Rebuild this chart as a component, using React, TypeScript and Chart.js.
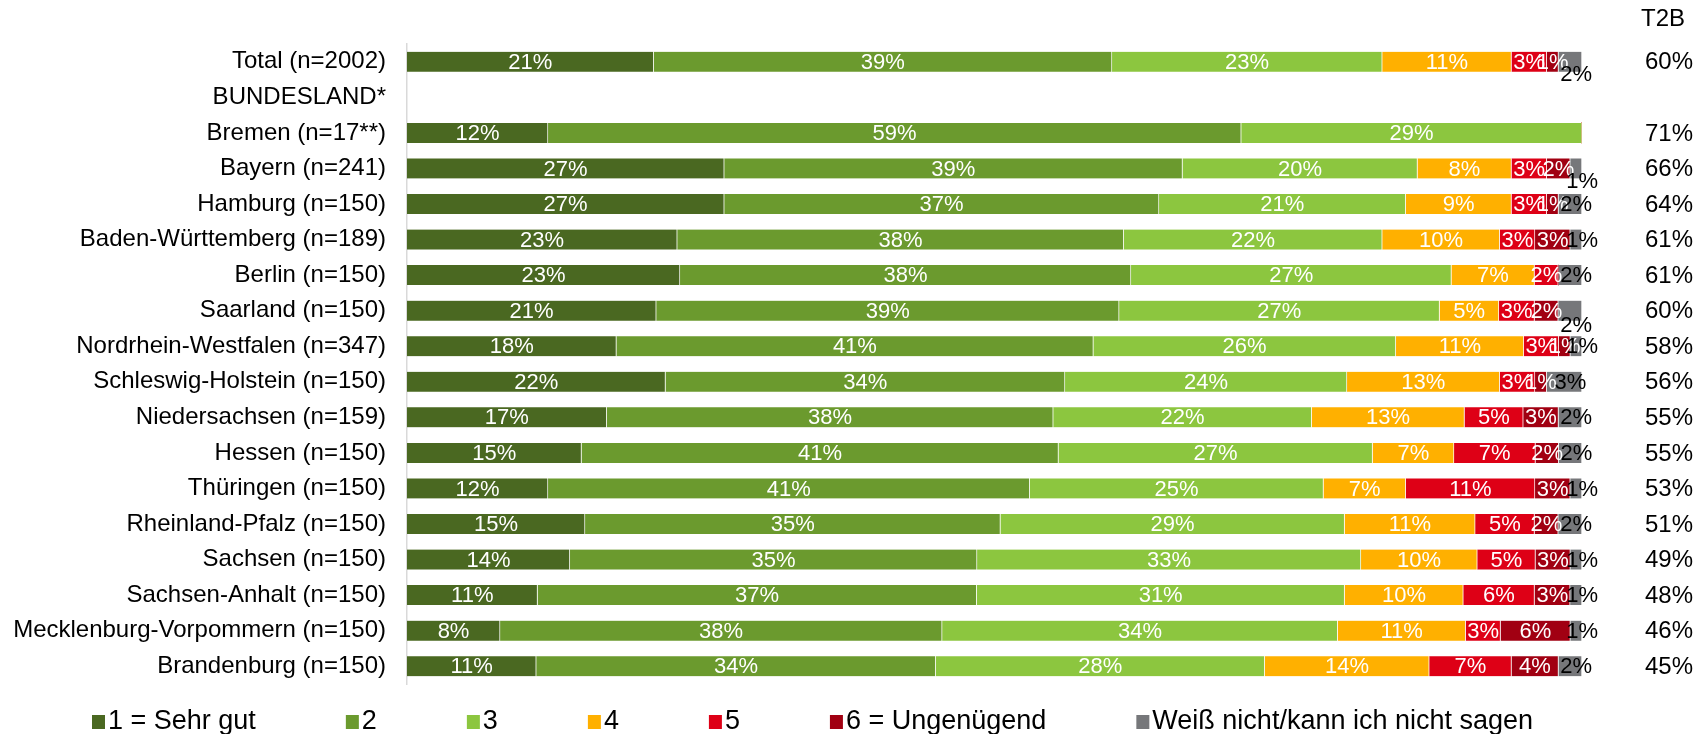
import React, { useEffect, useRef } from "react";
import { Chart, registerables } from "chart.js";

Chart.register(...registerables);

const FONT = "'Liberation Sans', Arial, Helvetica, sans-serif";

const categories = [
  "Total (n=2002)",
  "BUNDESLAND*",
  "Bremen (n=17**)",
  "Bayern (n=241)",
  "Hamburg (n=150)",
  "Baden-Württemberg (n=189)",
  "Berlin (n=150)",
  "Saarland (n=150)",
  "Nordrhein-Westfalen (n=347)",
  "Schleswig-Holstein (n=150)",
  "Niedersachsen (n=159)",
  "Hessen (n=150)",
  "Thüringen (n=150)",
  "Rheinland-Pfalz (n=150)",
  "Sachsen (n=150)",
  "Sachsen-Anhalt (n=150)",
  "Mecklenburg-Vorpommern (n=150)",
  "Brandenburg (n=150)",
];

const seriesNames = [
  "1 = Sehr gut",
  "2",
  "3",
  "4",
  "5",
  "6 = Ungenügend",
  "Weiß nicht/kann ich nicht sagen",
];

const sehrGut = [21, null, 12, 27, 27, 23, 23, 21, 18, 22, 17, 15, 12, 15, 14, 11, 8, 11];
const note2 = [39, null, 59, 39, 37, 38, 38, 39, 41, 34, 38, 41, 41, 35, 35, 37, 38, 34];
const note3 = [23, null, 29, 20, 21, 22, 27, 27, 26, 24, 22, 27, 25, 29, 33, 31, 34, 28];
const note4 = [11, null, 0, 8, 9, 10, 7, 5, 11, 13, 13, 7, 7, 11, 10, 10, 11, 14];
const note5 = [3, null, 0, 3, 3, 3, 2, 3, 3, 3, 5, 7, 11, 5, 5, 6, 3, 7];
const ungenuegend = [1, null, 0, 2, 1, 3, 0, 2, 1, 1, 3, 2, 3, 2, 3, 3, 6, 4];
const weissNicht = [2, null, 0, 1, 2, 1, 2, 2, 1, 3, 2, 2, 1, 2, 1, 1, 1, 2];

const t2bHeader = "T2B";
const t2bValues = ["60%", "", "71%", "66%", "64%", "61%", "61%", "60%", "58%", "56%", "55%", "55%", "53%", "51%", "49%", "48%", "46%", "45%"];

const colors = ["#4A6821", "#6B9A2E", "#8CC63F", "#FFB000", "#DE0016", "#A10012", "#76777A"];

// vertical nudges of the "Weiß nicht" labels (as moved in the original)
const grayLabelDy = [12, 0, 0, 12, 0, 0, 0, 14, 0, 0, 0, 0, 0, 0, 0, 0, 0, 0];

export default function App() {
  const ref = useRef<HTMLCanvasElement | null>(null);

  useEffect(() => {
    document.body.style.margin = "0";
    document.body.style.overflow = "hidden";
    const canvas = ref.current;
    if (!canvas) return;

    const series = [sehrGut, note2, note3, note4, note5, ungenuegend, weissNicht];
    const totals = categories.map((_, i) =>
      series.reduce((a, s) => a + ((s[i] as number | null) ?? 0), 0)
    );

    const datasets = series.map((s, k) => ({
      label: seriesNames[k],
      data: s.map((v, i) => (v == null || !totals[i] ? null : (v / totals[i]) * 100)),
      backgroundColor: colors[k],
      borderColor: "rgba(255,255,255,0.5)",
      borderWidth: { top: 0, bottom: 0, left: 0, right: 1 },
      borderSkipped: false,
      barThickness: 20,
    }));

    const overlay = {
      id: "overlay",
      afterDatasetsDraw(chart: any) {
        const ctx = chart.ctx as CanvasRenderingContext2D;
        const area = chart.chartArea;
        ctx.save();
        // bar labels
        ctx.font = `22px ${FONT}`;
        ctx.textAlign = "center";
        ctx.textBaseline = "middle";
        series.forEach((s, k) => {
          const meta = chart.getDatasetMeta(k);
          meta.data.forEach((el: any, i: number) => {
            const v = s[i];
            if (!v) return;
            const p = el.getProps(["x", "base", "y"], true);
            let cx = (p.x + p.base) / 2;
            let cy = p.y + 1;
            if (k === 6) {
              ctx.fillStyle = "#000000";
              cx += 6;
              cy += grayLabelDy[i];
            } else {
              ctx.fillStyle = "#FFFFFF";
            }
            ctx.fillText(`${v}%`, cx, cy);
          });
        });

        // T2B column
        ctx.fillStyle = "#000000";
        ctx.font = `24px ${FONT}`;
        ctx.textAlign = "center";
        ctx.fillText(t2bHeader, area.right + 81, 19);
        ctx.textAlign = "right";
        const yScale = chart.scales.y;
        t2bValues.forEach((t, i) => {
          if (!t) return;
          ctx.fillText(t, area.right + 111, yScale.getPixelForValue(i) + 1);
        });

        // legend
        ctx.font = `27px ${FONT}`;
        ctx.textAlign = "left";
        const box = 13;
        const gap = 90;
        let x = 92;
        const ly = 722;
        seriesNames.forEach((name, k) => {
          ctx.fillStyle = colors[k];
          ctx.fillRect(x, ly - 7, box, 14);
          ctx.fillStyle = "#000000";
          ctx.fillText(name, x + box + 3, ly);
          x += box + 3 + ctx.measureText(name).width + gap;
        });
        ctx.restore();
      },
    };

    const chart = new Chart(canvas, {
      type: "bar",
      data: { labels: categories, datasets },
      options: {
        indexAxis: "y",
        animation: false,
        responsive: true,
        maintainAspectRatio: false,
        layout: { padding: { top: 44, right: 114, bottom: 50, left: 0 } },
        plugins: {
          legend: { display: false },
          tooltip: { enabled: false },
          title: { display: false },
        },
        scales: {
          x: { stacked: true, min: 0, max: 100, display: false },
          y: {
            stacked: true,
            grid: { display: false, drawTicks: false },
            border: { display: true, color: "#D9D9D9", width: 1.5 },
            ticks: {
              font: { family: FONT, size: 24 },
              color: "#000000",
              padding: 21,
              autoSkip: false,
            },
            afterFit: (scale: any) => {
              scale.width = 407;
            },
          },
        },
      },
      plugins: [overlay],
    } as any);

    return () => chart.destroy();
  }, []);

  return (
    <div style={{ width: 1696, height: 734, position: "relative" }}>
      <canvas ref={ref} />
    </div>
  );
}
